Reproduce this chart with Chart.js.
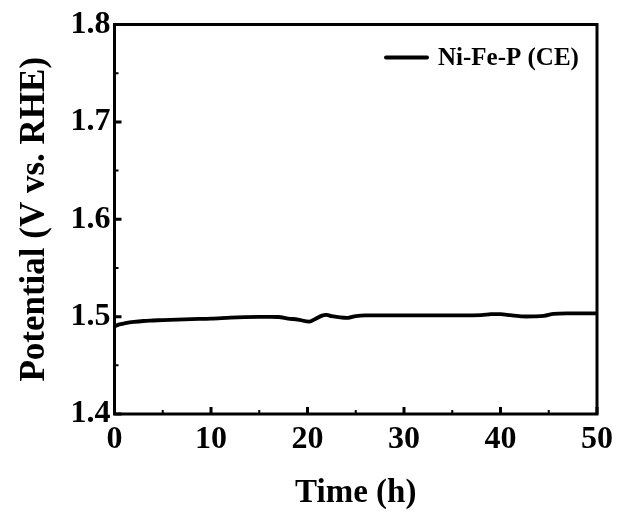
<!DOCTYPE html>
<html>
<head>
<meta charset="utf-8">
<script src="https://cdn.jsdelivr.net/npm/chart.js@4/dist/chart.umd.min.js"></script>
<style>
html,body{margin:0;padding:0;background:#fff;}
#wrap{width:620px;height:513px;position:relative;}
</style>
</head>
<body>
<div id="wrap"><canvas id="c" width="620" height="513"></canvas></div>
<script>
const seriesLabel = "Ni-Fe-P (CE)";
const timeH = [0, 0.5, 1, 2, 3, 4, 5, 6.5, 8, 10, 12, 13.5, 15, 17, 18, 19, 20.2, 20.8, 21.5, 22, 22.5, 23.2, 24.2, 25, 26, 30, 35, 38, 39, 40, 41, 42.3, 43.5, 44.5, 45.5, 47, 50];
const potential = [1.490, 1.492, 1.493, 1.4945, 1.4955, 1.496, 1.4965, 1.497, 1.4975, 1.498, 1.499, 1.4995, 1.4997, 1.4996, 1.498, 1.497, 1.4948, 1.4975, 1.501, 1.5018, 1.5005, 1.4995, 1.4988, 1.5005, 1.5012, 1.5012, 1.5013, 1.5015, 1.5025, 1.5025, 1.5015, 1.5002, 1.5003, 1.5008, 1.5028, 1.5033, 1.5033];
const xTicks = [0, 10, 20, 30, 40, 50];
const xMinor = [5, 15, 25, 35, 45];
const yTicks = [1.4, 1.5, 1.6, 1.7, 1.8];
const yMinor = [1.45, 1.55, 1.65, 1.75];
const xTitle = "Time (h)";
const yTitle = "Potential (V vs. RHE)";

const FONT = "'Liberation Serif','Times New Roman',serif";
const points = timeH.map((t, i) => ({x: t, y: potential[i]}));

const framePlugin = {
  id: 'frame',
  afterDraw(chart) {
    const ctx = chart.ctx, a = chart.chartArea;
    const xs = chart.scales.x, ys = chart.scales.y;
    ctx.save();
    ctx.strokeStyle = '#000';
    ctx.lineWidth = 3;
    ctx.strokeRect(a.left, a.top, a.right - a.left, a.bottom - a.top);
    ctx.lineWidth = 3;
    ctx.beginPath();
    xTicks.forEach(v => { const p = xs.getPixelForValue(v); ctx.moveTo(p, a.bottom); ctx.lineTo(p, a.bottom - 7); });
    yTicks.forEach(v => { const p = ys.getPixelForValue(v); ctx.moveTo(a.left, p); ctx.lineTo(a.left + 7, p); });
    ctx.stroke();
    ctx.lineWidth = 2;
    ctx.beginPath();
    xMinor.forEach(v => { const p = xs.getPixelForValue(v); ctx.moveTo(p, a.bottom); ctx.lineTo(p, a.bottom - 4); });
    yMinor.forEach(v => { const p = ys.getPixelForValue(v); ctx.moveTo(a.left, p); ctx.lineTo(a.left + 4, p); });
    ctx.stroke();
    // legend
    const lx = a.right - 211, ly = a.top + 33;
    ctx.lineWidth = 4;
    ctx.lineCap = 'round';
    ctx.beginPath();
    ctx.moveTo(lx, ly); ctx.lineTo(lx + 41, ly);
    ctx.stroke();
    ctx.fillStyle = '#000';
    ctx.font = "bold 25px " + FONT;
    ctx.textBaseline = 'middle';
    ctx.textAlign = 'left';
    ctx.fillText(chart.data.datasets[0].label, lx + 52, ly + 1);
    ctx.restore();
  }
};

new Chart(document.getElementById('c'), {
  type: 'line',
  data: {
    datasets: [{
      label: seriesLabel,
      data: points,
      borderColor: '#000',
      borderWidth: 3.8,
      pointRadius: 0,
      tension: 0.3,
      fill: false
    }]
  },
  options: {
    responsive: false,
    animation: false,
    events: [],
    layout: {padding: {left: 0, right: 23, top: 24.5, bottom: 0}},
    plugins: {legend: {display: false}, tooltip: {enabled: false}},
    scales: {
      x: {
        type: 'linear', min: 0, max: 50,
        afterBuildTicks: s => { s.ticks = xTicks.map(v => ({value: v})); },
        afterFit: s => { s.height = 513 - 414; },
        grid: {display: false, drawTicks: false},
        border: {display: false},
        ticks: {color: '#000', font: {family: FONT, size: 32, weight: 'bold'}, padding: 7, maxRotation: 0},
        title: {display: true, text: xTitle, color: '#000', font: {family: FONT, size: 33, weight: 'bold'}, padding: {top: 2, bottom: 0}}
      },
      y: {
        type: 'linear', min: 1.4, max: 1.8,
        afterBuildTicks: s => { s.ticks = yTicks.map(v => ({value: v})); },
        afterFit: s => { s.width = 114.5; },
        grid: {display: false, drawTicks: false},
        border: {display: false},
        ticks: {color: '#000', font: {family: FONT, size: 32, weight: 'bold'}, padding: 4, callback: v => v.toFixed(1)},
        title: {display: true, text: yTitle, color: '#000', font: {family: FONT, size: 35, weight: 'bold'}, padding: {top: 14, bottom: 0}}
      }
    }
  },
  plugins: [framePlugin]
});
</script>
</body>
</html>
